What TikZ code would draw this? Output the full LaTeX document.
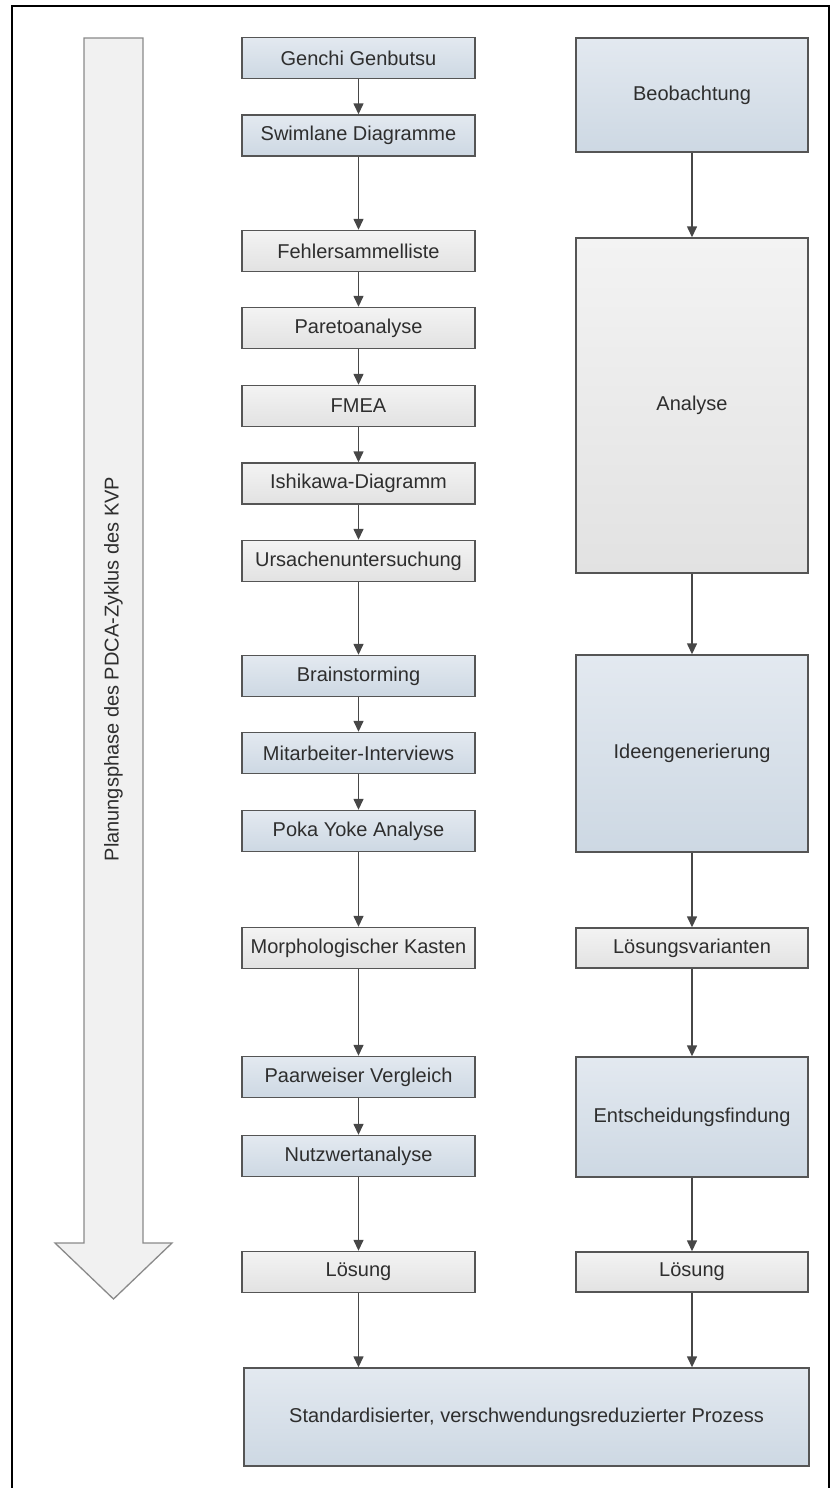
\documentclass[tikz,border=0pt]{standalone}
\usepackage{fontspec}
\setmainfont{Liberation Sans}
\usetikzlibrary{arrows.meta}

\definecolor{blueTop}{HTML}{E3E9F0}
\definecolor{blueBot}{HTML}{CDD8E3}
\definecolor{grayTop}{HTML}{F3F3F3}
\definecolor{grayBot}{HTML}{E2E2E2}
\definecolor{boxline}{HTML}{555555}
\definecolor{linkc}{HTML}{474747}
\definecolor{txt}{HTML}{2E2E2E}
\definecolor{phaseFill}{HTML}{F1F1F1}
\definecolor{phaseLine}{HTML}{8A8A8A}

\begin{document}
\begin{tikzpicture}[x=1pt,y=-1pt,
  box/.style={draw=boxline, line width=1.4pt, text=txt,
    font=\fontsize{20}{24}\selectfont, inner sep=0pt, align=center,
    minimum width=233pt, minimum height=41pt},
  bluebox/.style={box, top color=blueTop, bottom color=blueBot},
  graybox/.style={box, top color=grayTop, bottom color=grayBot},
  link/.style={draw=linkc, line width=1.4pt, -{Triangle[width=10pt,length=11pt]}},
  phasetext/.style={text=txt, font=\fontsize{20}{24}\selectfont, inner sep=0pt}
]
\useasboundingbox (0,0) rectangle (831,1488);
\clip (0,0) rectangle (831,1488);

% outer frame
\draw[line width=1.8pt, black] (12,1500) -- (12,6) -- (829,6) -- (829,1500);

% phase arrow on the left
\draw[draw=phaseLine, line width=1.3pt, fill=phaseFill]
  (84,38) -- (143,38) -- (143,1243) -- (172,1243) -- (113.5,1299)
  -- (55,1243) -- (84,1243) -- cycle;
\node[phasetext, rotate=90] (phase) at (113.5,669) {Planungsphase des PDCA-Zyklus des KVP};

% left column: methods
\node[bluebox] (g1)  at (358.5,58)    {Genchi Genbutsu};
\node[bluebox] (g2)  at (358.5,135.5) {Swimlane Diagramme};
\node[graybox] (g3)  at (358.5,251)   {Fehlersammelliste};
\node[graybox] (g4)  at (358.5,328)   {Paretoanalyse};
\node[graybox] (g5)  at (358.5,406)   {FMEA};
\node[graybox] (g6)  at (358.5,483.5) {Ishikawa-Diagramm};
\node[graybox] (g7)  at (358.5,561)   {Ursachenuntersuchung};
\node[bluebox] (g8)  at (358.5,676)   {Brainstorming};
\node[bluebox] (g9)  at (358.5,753)   {Mitarbeiter-Interviews};
\node[bluebox] (g10) at (358.5,831)   {Poka Yoke Analyse};
\node[graybox] (g11) at (358.5,948)   {Morphologischer Kasten};
\node[bluebox] (g12) at (358.5,1077)  {Paarweiser Vergleich};
\node[bluebox] (g13) at (358.5,1156)  {Nutzwertanalyse};
\node[graybox] (g14) at (358.5,1272)  {Lösung};

% right column: phases
\node[bluebox, minimum width=232pt, minimum height=114pt] (r1) at (692,95)     {Beobachtung};
\node[graybox, minimum width=232pt, minimum height=335pt] (r2) at (692,405.5)  {Analyse};
\node[bluebox, minimum width=232pt, minimum height=197pt] (r3) at (692,753.5)  {Ideengenerierung};
\node[graybox, minimum width=232pt, minimum height=40pt]  (r4) at (692,948)    {Lösungsvarianten};
\node[bluebox, minimum width=232pt, minimum height=120pt] (r5) at (692,1117)   {Entscheidungsfindung};
\node[graybox, minimum width=232pt, minimum height=40pt]  (r6) at (692,1272)   {Lösung};

% result
\node[bluebox, minimum width=565pt, minimum height=98pt] (res) at (526.5,1417)
  {Standardisierter, verschwendungsreduzierter Prozess};

% connectors, left column
\foreach \a/\b in {g1/g2,g2/g3,g3/g4,g4/g5,g5/g6,g6/g7,g7/g8,g8/g9,g9/g10,g10/g11,g11/g12,g12/g13,g13/g14}
  \draw[link] (\a) -- (\b);
\draw[link] (g14.south) -- (g14.south |- res.north);

% connectors, right column
\foreach \a/\b in {r1/r2,r2/r3,r3/r4,r4/r5,r5/r6}
  \draw[link] (\a) -- (\b);
\draw[link] (r6.south) -- (r6.south |- res.north);
\end{tikzpicture}
\end{document}
